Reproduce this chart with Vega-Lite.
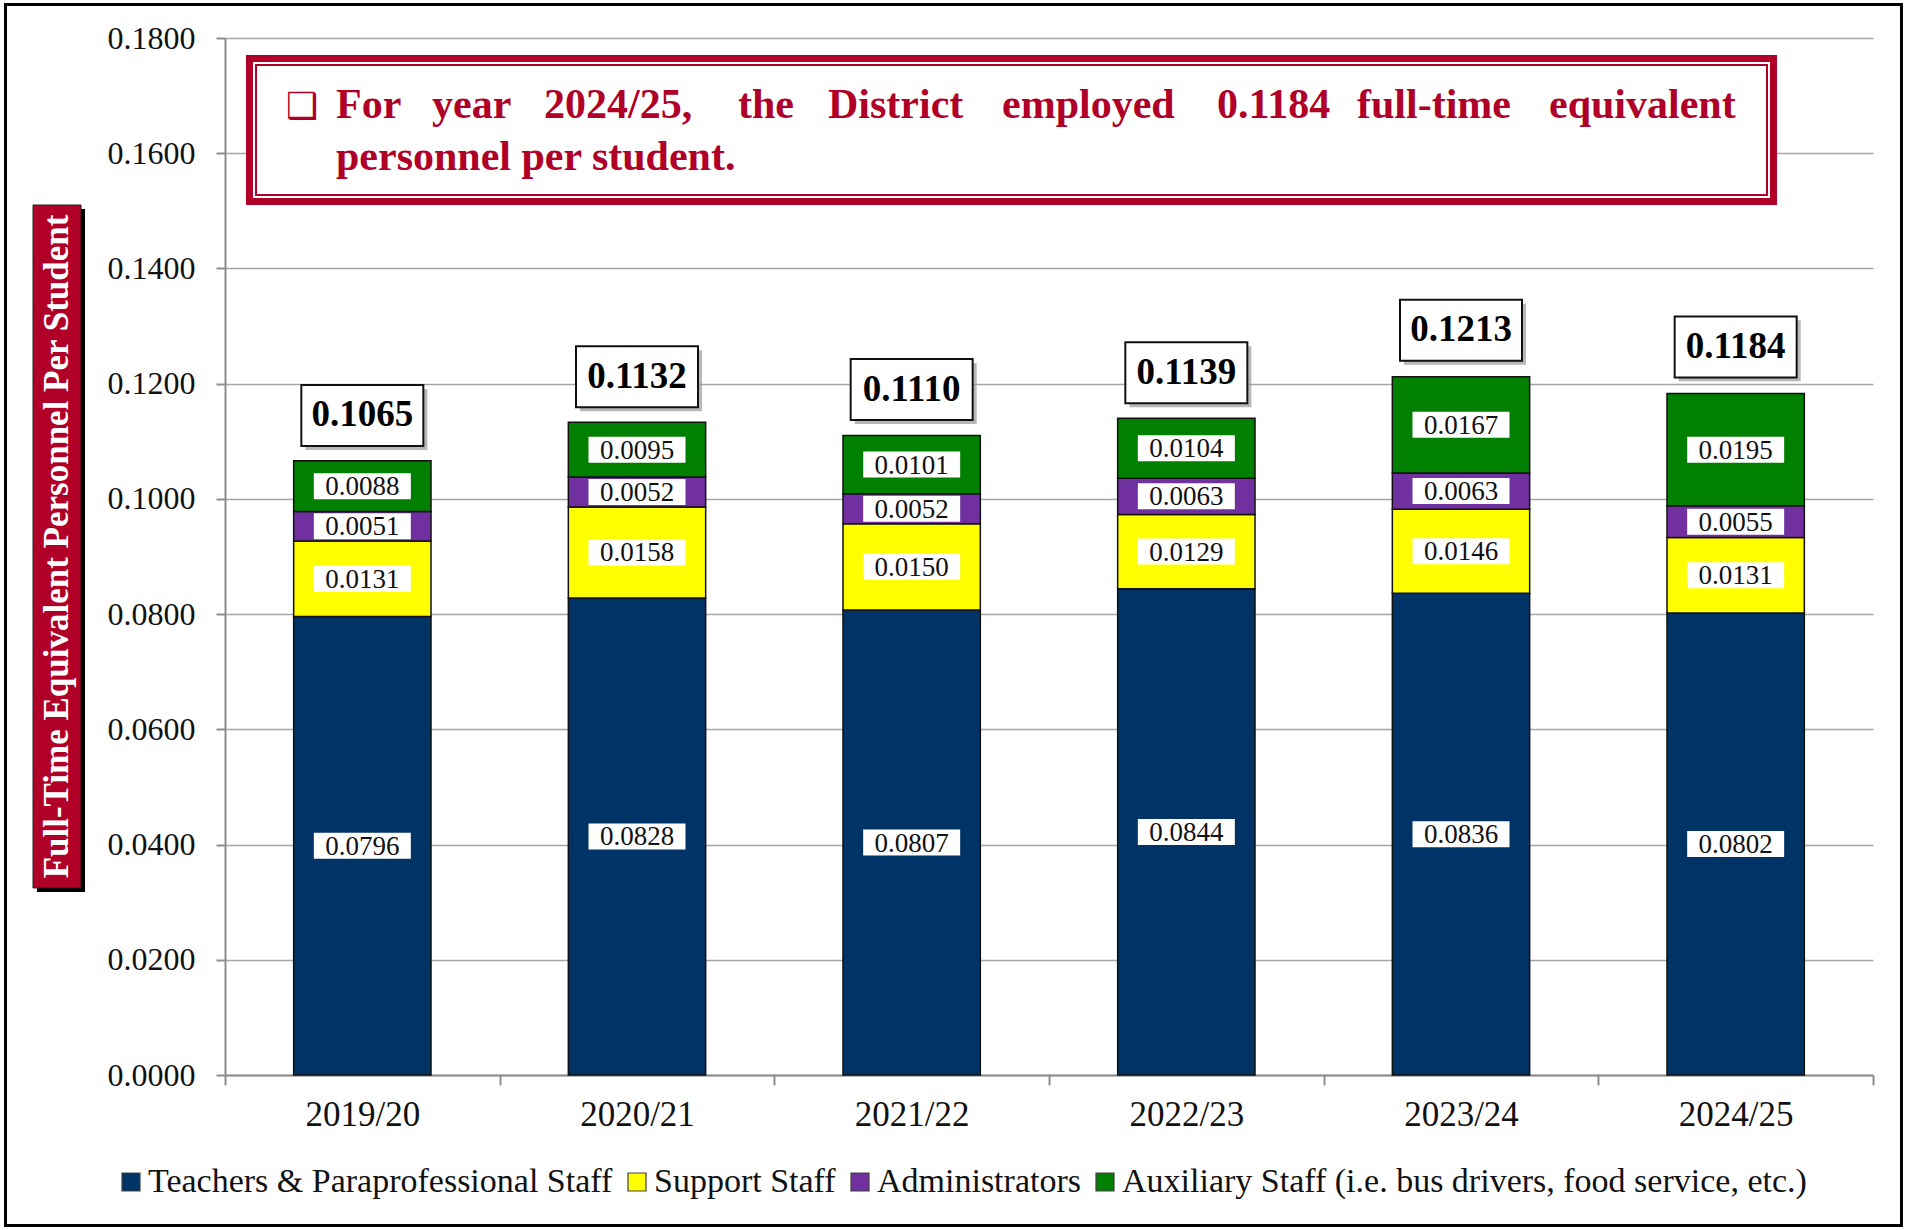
{
  "$schema": "https://vega.github.io/schema/vega-lite/v6.json",
  "width": 1648,
  "height": 1037,
  "autosize": "none",
  "padding": {"left": 225, "top": 38, "right": 34, "bottom": 155},
  "background": "white",
  "config": {
    "view": {"stroke": null},
    "font": "Liberation Serif",
    "axisY": {"grid": true, "gridColor": "#A6A6A6", "gridWidth": 1.5, "domainColor": "#8C8C8C", "domainWidth": 2, "tickColor": "#8C8C8C", "tickWidth": 2, "tickSize": 9, "labelFontSize": 32, "labelFont": "Liberation Serif", "labelColor": "#111111", "labelPadding": 21},
    "axisX": {"grid": false, "domainColor": "#8C8C8C", "domainWidth": 2, "tickColor": "#8C8C8C", "tickWidth": 2, "tickSize": 10, "tickBand": "extent", "labelFontSize": 35, "labelFont": "Liberation Serif", "labelColor": "#111111", "labelPadding": 12, "labelAngle": 0}
  },
  "datasets": {
    "seg": [
      {"year": "2019/20", "category": "Teachers & Paraprofessional Staff", "k": 1, "value": 0.0796},
      {"year": "2019/20", "category": "Support Staff", "k": 2, "value": 0.0131},
      {"year": "2019/20", "category": "Administrators", "k": 3, "value": 0.0051},
      {"year": "2019/20", "category": "Auxiliary Staff (i.e. bus drivers, food service, etc.)", "k": 4, "value": 0.0088},
      {"year": "2020/21", "category": "Teachers & Paraprofessional Staff", "k": 1, "value": 0.0828},
      {"year": "2020/21", "category": "Support Staff", "k": 2, "value": 0.0158},
      {"year": "2020/21", "category": "Administrators", "k": 3, "value": 0.0052},
      {"year": "2020/21", "category": "Auxiliary Staff (i.e. bus drivers, food service, etc.)", "k": 4, "value": 0.0095},
      {"year": "2021/22", "category": "Teachers & Paraprofessional Staff", "k": 1, "value": 0.0807},
      {"year": "2021/22", "category": "Support Staff", "k": 2, "value": 0.0150},
      {"year": "2021/22", "category": "Administrators", "k": 3, "value": 0.0052},
      {"year": "2021/22", "category": "Auxiliary Staff (i.e. bus drivers, food service, etc.)", "k": 4, "value": 0.0101},
      {"year": "2022/23", "category": "Teachers & Paraprofessional Staff", "k": 1, "value": 0.0844},
      {"year": "2022/23", "category": "Support Staff", "k": 2, "value": 0.0129},
      {"year": "2022/23", "category": "Administrators", "k": 3, "value": 0.0063},
      {"year": "2022/23", "category": "Auxiliary Staff (i.e. bus drivers, food service, etc.)", "k": 4, "value": 0.0104},
      {"year": "2023/24", "category": "Teachers & Paraprofessional Staff", "k": 1, "value": 0.0836},
      {"year": "2023/24", "category": "Support Staff", "k": 2, "value": 0.0146},
      {"year": "2023/24", "category": "Administrators", "k": 3, "value": 0.0063},
      {"year": "2023/24", "category": "Auxiliary Staff (i.e. bus drivers, food service, etc.)", "k": 4, "value": 0.0167},
      {"year": "2024/25", "category": "Teachers & Paraprofessional Staff", "k": 1, "value": 0.0802},
      {"year": "2024/25", "category": "Support Staff", "k": 2, "value": 0.0131},
      {"year": "2024/25", "category": "Administrators", "k": 3, "value": 0.0055},
      {"year": "2024/25", "category": "Auxiliary Staff (i.e. bus drivers, food service, etc.)", "k": 4, "value": 0.0195}
    ],
    "tot": [
      {"year": "2019/20", "total": 0.1065},
      {"year": "2020/21", "total": 0.1132},
      {"year": "2021/22", "total": 0.1110},
      {"year": "2022/23", "total": 0.1139},
      {"year": "2023/24", "total": 0.1213},
      {"year": "2024/25", "total": 0.1184}
    ]
  },
  "layer": [
    {
      "layer": [
        {
          "data": {"name": "seg"},
          "transform": [{"stack": "value", "groupby": ["year"], "sort": [{"field": "k", "order": "ascending"}], "as": ["v0", "v1"]}],
          "mark": {"type": "bar", "stroke": "#111111", "strokeWidth": 1.5, "width": {"band": 0.5}},
          "encoding": {
            "x": {"field": "year", "type": "nominal", "title": null, "sort": null, "scale": {"paddingInner": 0, "paddingOuter": 0}},
            "y": {"field": "v0", "type": "quantitative", "title": null, "scale": {"domain": [0, 0.18], "nice": false}, "axis": {"values": [0, 0.02, 0.04, 0.06, 0.08, 0.1, 0.12, 0.14, 0.16, 0.18], "format": ".4f"}},
            "y2": {"field": "v1"},
            "color": {
              "field": "category", "type": "nominal",
              "scale": {
                "domain": ["Teachers & Paraprofessional Staff", "Support Staff", "Administrators", "Auxiliary Staff (i.e. bus drivers, food service, etc.)"],
                "range": ["#003366", "#FFFF00", "#7030A0", "#008000"]
              },
              "legend": {"orient": "none", "direction": "horizontal", "legendX": -111, "legendY": 1127, "title": null, "padding": 0, "symbolType": "square", "symbolSize": 324, "symbolStrokeColor": "#404040", "symbolStrokeWidth": 1.2, "symbolOpacity": 1, "labelFontSize": 34, "labelFont": "Liberation Serif", "labelColor": "#111111", "labelOffset": 0, "columnPadding": 7, "labelLimit": 1000}
            }
          }
        },
        {
          "data": {"name": "seg"},
          "transform": [
            {"stack": "value", "groupby": ["year"], "sort": [{"field": "k", "order": "ascending"}], "as": ["v0", "v1"]},
            {"fold": ["v0", "v1"], "as": ["edge", "pos"]},
            {"aggregate": [{"op": "mean", "field": "pos", "as": "mid"}], "groupby": ["year", "category", "value"]}
          ],
          "encoding": {
            "x": {"field": "year", "type": "nominal", "title": null, "sort": null},
            "y": {"field": "mid", "type": "quantitative", "title": null}
          },
          "layer": [
            {"mark": {"type": "point", "shape": "M-1,-0.268H1V0.268H-1Z", "filled": true, "fill": "white", "opacity": 1, "strokeWidth": 0, "size": 9409}},
            {"mark": {"type": "text", "fontSize": 27, "color": "#111111", "baseline": "middle", "align": "center", "dy": 1},
             "encoding": {"text": {"field": "value", "type": "quantitative", "format": ".4f"}}}
          ]
        },
        {
          "data": {"name": "tot"},
          "encoding": {
            "x": {"field": "year", "type": "nominal", "title": null, "sort": null},
            "y": {"field": "total", "type": "quantitative", "title": null}
          },
          "layer": [
            {"mark": {"type": "point", "shape": "M-0.934,-1.189H1.066V-0.189H-0.934Z", "filled": true, "fill": "#9A9A9A", "opacity": 0.7, "strokeWidth": 0, "size": 14884}},
            {"mark": {"type": "point", "shape": "M-1,-1.254H1V-0.254H-1Z", "filled": true, "fill": "white", "opacity": 1, "stroke": "#111111", "strokeWidth": 2, "size": 14884}},
            {"mark": {"type": "text", "fontSize": 37, "fontWeight": "bold", "color": "#000000", "baseline": "middle", "align": "center", "dy": -46},
             "encoding": {"text": {"field": "total", "type": "quantitative", "format": ".4f"}}}
          ]
        }
      ]
    },
    {
      "data": {"values": [{}]},
      "layer": [
        {
          "mark": {"type": "rect", "fill": "transparent", "stroke": "#000000", "strokeWidth": 3},
          "encoding": {
            "x": {"datum": -0.7991, "type": "quantitative", "scale": {"domain": [0, 6], "nice": false, "zero": false}, "axis": null},
            "x2": {"datum": 6.1037},
            "y": {"datum": 0.18582, "type": "quantitative", "scale": {"domain": [0, 0.18], "nice": false}, "axis": null},
            "y2": {"datum": -0.026124}
          }
        },
        {
          "mark": {"type": "rect", "fill": "#000000"},
          "encoding": {
            "x": {"datum": -0.6845, "type": "quantitative", "axis": null},
            "x2": {"datum": -0.5097},
            "y": {"datum": 0.15032, "type": "quantitative", "axis": null},
            "y2": {"datum": 0.03177}
          }
        },
        {
          "mark": {"type": "rect", "fill": "#B00028", "stroke": "#222222", "strokeWidth": 1},
          "encoding": {
            "x": {"datum": -0.6990, "type": "quantitative", "axis": null},
            "x2": {"datum": -0.5243},
            "y": {"datum": 0.15101, "type": "quantitative", "axis": null},
            "y2": {"datum": 0.03246}
          }
        },
        {
          "mark": {"type": "text", "text": "Full-Time Equivalent Personnel Per Student", "angle": 270, "fontSize": 35, "fontWeight": "bold", "color": "white", "align": "center", "baseline": "middle"},
          "encoding": {
            "x": {"datum": -0.6117, "type": "quantitative", "axis": null},
            "y": {"datum": 0.09174, "type": "quantitative", "axis": null}
          }
        },
        {
          "mark": {"type": "rect", "fill": "white", "stroke": "#B00028", "strokeWidth": 7},
          "encoding": {
            "x": {"datum": 0.0892, "type": "quantitative", "axis": null},
            "x2": {"datum": 5.6377},
            "y": {"datum": 0.17645, "type": "quantitative", "axis": null},
            "y2": {"datum": 0.15162}
          }
        },
        {
          "mark": {"type": "rect", "fill": "transparent", "stroke": "#B00028", "strokeWidth": 2},
          "encoding": {
            "x": {"datum": 0.1129, "type": "quantitative", "axis": null},
            "x2": {"datum": 5.6141},
            "y": {"datum": 0.17532, "type": "quantitative", "axis": null},
            "y2": {"datum": 0.15275}
          }
        },
        {
          "mark": {"type": "text", "text": "❑", "font": "DejaVu Sans", "fontSize": 36, "fontWeight": "bold", "color": "#B00028", "align": "left", "baseline": "alphabetic"},
          "encoding": {"x": {"datum": 0.2221, "type": "quantitative", "axis": null}, "y": {"datum": 0.16612, "type": "quantitative", "axis": null}}
        },
        {
          "mark": {"type": "text", "text": "For", "fontSize": 42, "fontWeight": "bold", "color": "#B00028", "align": "left", "baseline": "alphabetic"},
          "encoding": {"x": {"datum": 0.4041, "type": "quantitative", "axis": null}, "y": {"datum": 0.16612, "type": "quantitative", "axis": null}}
        },
        {
          "mark": {"type": "text", "text": "year", "fontSize": 42, "fontWeight": "bold", "color": "#B00028", "align": "left", "baseline": "alphabetic"},
          "encoding": {"x": {"datum": 0.7536, "type": "quantitative", "axis": null}, "y": {"datum": 0.16612, "type": "quantitative", "axis": null}}
        },
        {
          "mark": {"type": "text", "text": "2024/25,", "fontSize": 42, "fontWeight": "bold", "color": "#B00028", "align": "left", "baseline": "alphabetic"},
          "encoding": {"x": {"datum": 1.1614, "type": "quantitative", "axis": null}, "y": {"datum": 0.16612, "type": "quantitative", "axis": null}}
        },
        {
          "mark": {"type": "text", "text": "the", "fontSize": 42, "fontWeight": "bold", "color": "#B00028", "align": "left", "baseline": "alphabetic"},
          "encoding": {"x": {"datum": 1.8677, "type": "quantitative", "axis": null}, "y": {"datum": 0.16612, "type": "quantitative", "axis": null}}
        },
        {
          "mark": {"type": "text", "text": "District", "fontSize": 42, "fontWeight": "bold", "color": "#B00028", "align": "left", "baseline": "alphabetic"},
          "encoding": {"x": {"datum": 2.1954, "type": "quantitative", "axis": null}, "y": {"datum": 0.16612, "type": "quantitative", "axis": null}}
        },
        {
          "mark": {"type": "text", "text": "employed", "fontSize": 42, "fontWeight": "bold", "color": "#B00028", "align": "left", "baseline": "alphabetic"},
          "encoding": {"x": {"datum": 2.8289, "type": "quantitative", "axis": null}, "y": {"datum": 0.16612, "type": "quantitative", "axis": null}}
        },
        {
          "mark": {"type": "text", "text": "0.1184", "fontSize": 42, "fontWeight": "bold", "color": "#B00028", "align": "left", "baseline": "alphabetic"},
          "encoding": {"x": {"datum": 3.6116, "type": "quantitative", "axis": null}, "y": {"datum": 0.16612, "type": "quantitative", "axis": null}}
        },
        {
          "mark": {"type": "text", "text": "full-time", "fontSize": 42, "fontWeight": "bold", "color": "#B00028", "align": "left", "baseline": "alphabetic"},
          "encoding": {"x": {"datum": 4.1214, "type": "quantitative", "axis": null}, "y": {"datum": 0.16612, "type": "quantitative", "axis": null}}
        },
        {
          "mark": {"type": "text", "text": "equivalent", "fontSize": 42, "fontWeight": "bold", "color": "#B00028", "align": "left", "baseline": "alphabetic"},
          "encoding": {"x": {"datum": 4.8204, "type": "quantitative", "axis": null}, "y": {"datum": 0.16612, "type": "quantitative", "axis": null}}
        },
        {
          "mark": {"type": "text", "text": "personnel per student.", "fontSize": 42, "fontWeight": "bold", "color": "#B00028", "align": "left", "baseline": "alphabetic"},
          "encoding": {"x": {"datum": 0.4041, "type": "quantitative", "axis": null}, "y": {"datum": 0.15709, "type": "quantitative", "axis": null}}
        }
      ]
    }
  ],
  "resolve": {"scale": {"x": "independent", "y": "independent"}}
}
